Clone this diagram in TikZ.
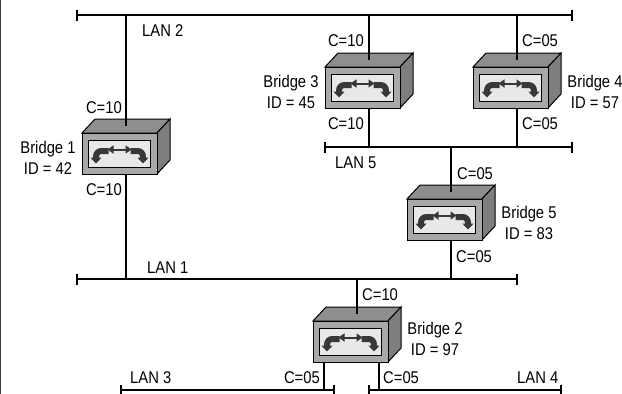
\documentclass[tikz,border=0pt]{standalone}
\usepackage{fontspec}
\setmainfont{Liberation Sans}[FakeStretch=0.87]
\usetikzlibrary{arrows.meta,calc}

\definecolor{boxfront}{HTML}{A8A8A8}
\definecolor{boxtop}{HTML}{8E8E8E}
\definecolor{boxside}{HTML}{7E7E7E}
\definecolor{boxscreen}{HTML}{E8E8E8}
\definecolor{boxicon}{HTML}{383838}

\begin{document}
\begin{tikzpicture}[x=1pt, y=-1pt,
    font=\fontsize{17}{21}\selectfont,
    lan/.style={line width=2.4pt, {Bar[width=11pt,line width=2.4pt]}-{Bar[width=11pt,line width=2.4pt]}},
    link/.style={line width=2.8pt},
    bridge/.style={draw, fill=boxfront, minimum width=75pt, minimum height=41pt, inner sep=0pt, outer sep=0pt, line width=1pt},
    screen/.style={draw, fill=boxscreen, minimum width=62pt, minimum height=27pt, inner sep=0pt, outer sep=0pt, line width=1pt},
    cost/.style={inner sep=0pt},
    bname/.style={inner sep=0pt, align=center}]

    \useasboundingbox (0,0) rectangle (622,394);

    % Frame edge on the left
    \draw[darkgray, line width=1.2pt] (0.6,0) -- (0.6,394);

    % The five bridges, drawn as boxes
    \foreach \n/\x/\y in {b1/82/133, b3/325/67, b4/473/67, b5/407/199, b2/313/321} {
        \filldraw[fill=boxtop, line width=1pt] (\x,\y) -- ++(13,-14) -- ++(75,0) -- ++(-13,14) -- cycle;
        \filldraw[fill=boxside, line width=1pt] (\x+75,\y) -- ++(13,-14) -- ++(0,41) -- ++(-13,14) -- cycle;
        \node[bridge, anchor=north west] (\n) at (\x,\y) {};
        \node[screen] (s\n) at (\n) {};
        \begin{scope}[shift={(s\n.north west)}]
            \draw[boxicon, line width=6pt, -{Triangle[width=11pt,length=6pt]}]
                (20,11) -- (13,11) .. controls (9.5,11) and (7.5,13.5) .. (7.5,17) -- (7.5,23.5);
            \draw[boxicon, line width=6pt, -{Triangle[width=11pt,length=6pt]}]
                (42,11) -- (49,11) .. controls (52.5,11) and (54.5,13.5) .. (54.5,17) -- (54.5,23.5);
            \draw[boxicon, line width=2pt, {Triangle[length=6pt,width=8pt]}-{Triangle[length=6pt,width=8pt]}]
                (19,9.5) -- (43,9.5);
        \end{scope}
        \coordinate (t\n) at ($(\n.north)+(6.5,-7)$);
    }

    % LAN ends
    \coordinate (l2a) at (76,15);   \coordinate (l2b) at (573,15);
    \coordinate (l5a) at (324,147); \coordinate (l5b) at (573,147);
    \coordinate (l1a) at (76,279);  \coordinate (l1b) at (518,279);
    \coordinate (l3a) at (120,390); \coordinate (l3b) at (335,390);
    \coordinate (l4a) at (368,390); \coordinate (l4b) at (562,390);
    \coordinate (b2l) at ($(b2.south west)+(11,0)$);
    \coordinate (b2r) at ($(b2.south east)+(-9,0)$);

    % Links from the LANs to the bridges
    \draw[link] (tb1 |- l2a) -- (tb1);
    \draw[link] (tb1 |- b1.south) -- (tb1 |- l1a);
    \draw[link] (tb3 |- l2a) -- (tb3);
    \draw[link] (tb3 |- b3.south) -- (tb3 |- l5a);
    \draw[link] (tb4 |- l2a) -- (tb4);
    \draw[link] (tb4 |- b4.south) -- (tb4 |- l5a);
    \draw[link] (tb5 |- l5a) -- (tb5);
    \draw[link] (tb5 |- b5.south) -- (tb5 |- l1a);
    \draw[link] (tb2 |- l1a) -- (tb2);
    \draw[link] (b2l) -- (b2l |- l3a);
    \draw[link] (b2r) -- (b2r |- l4a);

    % The LANs
    \draw[lan] (l2a) -- (l2b);
    \draw[lan] (l5a) -- (l5b);
    \draw[lan] (l1a) -- (l1b);
    \draw[lan] (l3a) -- (l3b);
    \draw[lan] (l4a) -- (l4b);

    % LAN names
    \node[cost, anchor=west] (lan2) at (142,31) {LAN 2};
    \node[cost, anchor=west] (lan5) at (335,163) {LAN 5};
    \node[cost, anchor=west] (lan1) at (147,268) {LAN 1};
    \node[cost, anchor=west] (lan3) at (130,378) {LAN 3};
    \node[cost, anchor=west] (lan4) at (517,378) {LAN 4};

    % Port costs
    \node[cost, anchor=east] (c1t) at (122,108) {C=10};
    \node[cost, anchor=east] (c1b) at (122,190) {C=10};
    \node[cost, anchor=east] (c3t) at (364,41) {C=10};
    \node[cost, anchor=east] (c3b) at (364,124) {C=10};
    \node[cost, anchor=west] (c4t) at (522,41) {C=05};
    \node[cost, anchor=west] (c4b) at (522,124) {C=05};
    \node[cost, anchor=west] (c5t) at (457,174) {C=05};
    \node[cost, anchor=west] (c5b) at (456,257) {C=05};
    \node[cost, anchor=west] (c2t) at (362,295) {C=10};
    \node[cost, anchor=east] (c2l) at (320,378) {C=05};
    \node[cost, anchor=west] (c2r) at (383,378) {C=05};

    % Bridge names and IDs
    \node[bname] (n1) at (48,157.5) {Bridge 1\\ID = 42};
    \node[bname] (n3) at (291,91.5) {Bridge 3\\ID = 45};
    \node[bname] (n4) at (595,91.5) {Bridge 4\\ID = 57};
    \node[bname] (n5) at (529,223) {Bridge 5\\ID = 83};
    \node[bname] (n2) at (435,339) {Bridge 2\\ID = 97};
\end{tikzpicture}
\end{document}
